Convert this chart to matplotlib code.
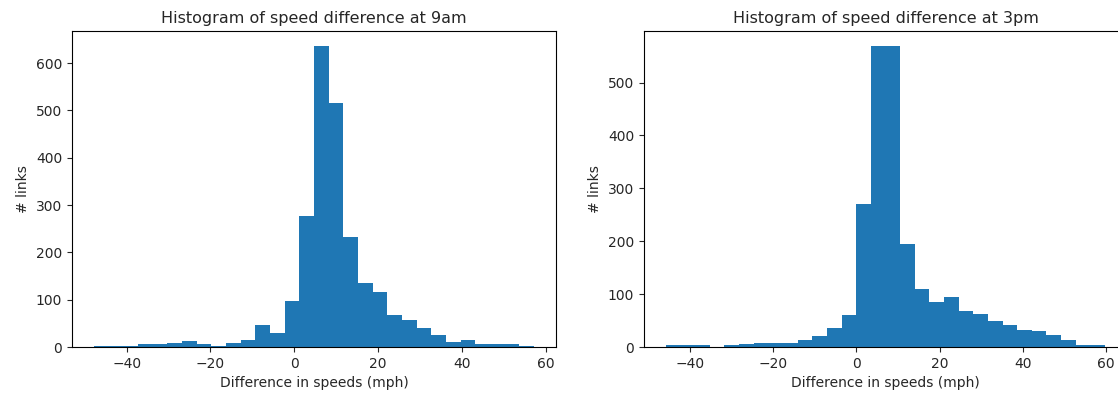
import numpy as np
import matplotlib
matplotlib.use("Agg")
import matplotlib.pyplot as plt

# bin ranges (30 equal bins each)
range_9am = (-47.8, 57.2)
range_3pm = (-45.8, 59.8)

# link counts per bin
counts_9am = [3, 3, 3, 6, 6, 9, 12, 6, 3, 9,
              15, 46, 30, 98, 277, 636, 515, 233, 135, 116,
              67, 58, 40, 25, 11, 15, 6, 6, 6, 3]
counts_3pm = [3, 3, 3, 0, 3, 6, 8, 8, 8, 14,
              20, 36, 60, 271, 569, 569, 195, 110, 86, 94,
              69, 63, 49, 41, 33, 30, 22, 14, 3, 3]

titles = ["Histogram of speed difference at 9am",
          "Histogram of speed difference at 3pm"]

plt.rcParams['text.color'] = '#262626'
plt.rcParams['axes.labelcolor'] = '#262626'
plt.rcParams['xtick.color'] = '#262626'
plt.rcParams['ytick.color'] = '#262626'

fig = plt.figure(figsize=(11.18, 3.93), dpi=100)
ax1 = fig.add_axes([0.0644, 0.117, 0.4329, 0.804])
ax2 = fig.add_axes([0.576, 0.117, 0.432, 0.804])

for ax, counts, rng, title in zip([ax1, ax2], [counts_9am, counts_3pm],
                                  [range_9am, range_3pm], titles):
    edges = np.linspace(rng[0], rng[1], len(counts) + 1)
    centers = (edges[:-1] + edges[1:]) / 2
    ax.hist(centers, bins=edges, weights=counts, color='#1f77b4')
    ax.set_title(title, fontsize=11.5)
    ax.set_xlabel('Difference in speeds (mph)')
    ax.set_ylabel('# links')
    ax.set_xticks([-40, -20, 0, 20, 40, 60])

fig.savefig("out.png", dpi=100)
